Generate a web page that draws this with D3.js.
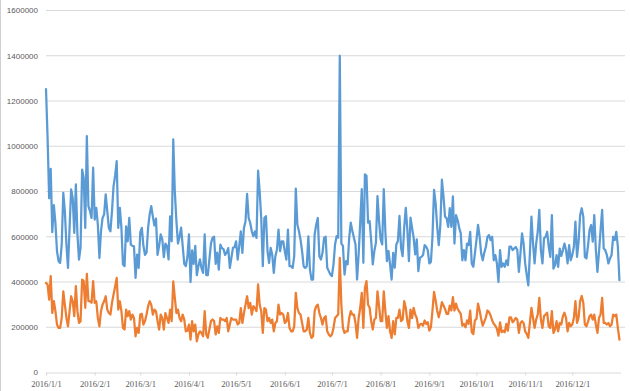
<!DOCTYPE html>
<html>
<head>
<meta charset="utf-8">
<script src="https://cdn.jsdelivr.net/npm/d3@7"></script>
<style>
  html, body { margin: 0; padding: 0; background: #ffffff; }
  svg { display: block; }
</style>
</head>
<body>
<svg id="chart" width="630" height="391"></svg>
<script>
// ---------- DATA ----------
const startDate = "2016-01-01";
const endDate = "2017-01-01";

const tickLabels = ["2016/1/1","2016/2/1","2016/3/1","2016/4/1","2016/5/1","2016/6/1",
                    "2016/7/1","2016/8/1","2016/9/1","2016/10/1","2016/11/1","2016/12/1"];

const yTicks = [0,200000,400000,600000,800000,1000000,1200000,1400000,1600000];

// daily values, 2016-01-01 .. 2016-12-31
const seriesBlue = [
1252000,1040000,770000,900000,620000,740000,660000,536000,492000,484000,
565000,794000,713000,565000,462000,639000,809000,772000,617000,831000,
610000,499000,551000,897000,860000,639000,1045000,735000,713000,683000,
905000,676000,728000,654000,506000,624000,683000,698000,787000,713000,
639000,624000,713000,824000,870000,934000,639000,728000,639000,477000,
470000,646000,580000,683000,565000,560000,558000,418000,521000,462000,
620000,639000,560000,520000,530000,640000,700000,735000,690000,650000,
680000,520000,560000,610000,590000,510000,570000,560000,500000,690000,
580000,1030000,800000,670000,570000,600000,640000,560000,480000,470000,
510000,610000,400000,540000,480000,560000,430000,470000,500000,460000,
440000,610000,430000,430000,500000,570000,595000,600000,480000,530000,
455000,565000,550000,545000,520000,530000,550000,462000,507000,551000,
554000,580000,499000,558000,624000,529000,639000,669000,789000,683000,
661000,624000,602000,624000,595000,892000,801000,683000,470000,683000,
691000,536000,484000,551000,521000,440000,514000,543000,632000,536000,
580000,580000,536000,499000,632000,470000,470000,462000,514000,813000,
654000,624000,588000,536000,470000,462000,470000,602000,455000,411000,
411000,610000,654000,683000,514000,499000,529000,595000,600000,463000,
448000,433000,426000,478000,566000,603000,596000,1400000,570000,560000,
433000,492000,478000,596000,662000,625000,596000,566000,411000,522000,
662000,810000,485000,876000,869000,662000,669000,581000,478000,537000,
573000,780000,669000,588000,566000,810000,625000,492000,537000,478000,
411000,529000,463000,566000,581000,692000,551000,514000,640000,728000,
633000,492000,684000,640000,596000,522000,588000,448000,507000,511000,
519000,563000,556000,541000,482000,489000,600000,807000,748000,644000,
563000,650000,852000,778000,689000,682000,644000,726000,644000,778000,
570000,696000,674000,640000,615000,496000,541000,496000,570000,563000,
622000,482000,467000,526000,585000,652000,600000,526000,496000,530000,
556000,600000,607000,585000,600000,496000,519000,482000,400000,541000,
467000,482000,467000,496000,474000,556000,556000,541000,548000,555000,
541000,445000,526000,615000,570000,482000,430000,385000,526000,689000,
570000,482000,570000,622000,719000,541000,482000,593000,600000,622000,
556000,511000,696000,459000,474000,519000,467000,548000,515000,541000,
570000,541000,482000,563000,496000,519000,556000,667000,511000,578000,
696000,726000,689000,511000,504000,560000,630000,652000,578000,696000,
541000,445000,533000,630000,719000,548000,541000,519000,482000,504000,
519000,600000,585000,622000,556000,408000
];

const seriesOrange = [
396000,389000,322000,426000,263000,315000,271000,212000,197000,197000,
241000,359000,300000,241000,204000,271000,337000,315000,249000,382000,
271000,219000,227000,411000,404000,286000,436000,315000,315000,308000,
404000,308000,315000,241000,204000,271000,300000,315000,337000,278000,
263000,256000,308000,345000,380000,418000,278000,315000,271000,197000,
190000,278000,249000,271000,234000,256000,241000,160000,197000,175000,
256000,259000,212000,227000,256000,293000,315000,300000,256000,278000,
271000,227000,190000,256000,241000,190000,263000,241000,219000,278000,
227000,403000,330000,263000,278000,241000,227000,256000,234000,182000,
185000,212000,145000,227000,182000,212000,138000,168000,182000,175000,
160000,271000,168000,153000,190000,227000,234000,227000,168000,204000,
175000,241000,234000,234000,227000,241000,182000,212000,241000,234000,
234000,234000,212000,219000,285000,219000,263000,300000,337000,285000,
308000,256000,293000,285000,271000,389000,300000,271000,175000,285000,
278000,227000,241000,219000,234000,182000,219000,227000,300000,256000,
263000,256000,219000,227000,263000,197000,182000,182000,204000,352000,
285000,263000,256000,219000,182000,182000,190000,241000,175000,153000,
160000,271000,293000,300000,263000,241000,212000,241000,249000,182000,
168000,160000,168000,197000,241000,249000,256000,507000,300000,197000,
175000,182000,182000,241000,271000,256000,256000,219000,153000,241000,
286000,352000,197000,374000,404000,300000,286000,227000,190000,234000,
241000,359000,293000,227000,227000,359000,271000,197000,249000,182000,
153000,227000,168000,241000,241000,278000,227000,234000,315000,286000,
227000,197000,278000,241000,286000,256000,241000,197000,212000,215000,
207000,230000,215000,222000,185000,200000,274000,356000,318000,274000,
244000,274000,311000,296000,281000,259000,259000,296000,274000,333000,
274000,304000,281000,270000,259000,207000,215000,200000,230000,215000,
274000,178000,170000,230000,237000,304000,274000,237000,207000,225000,
244000,274000,267000,252000,230000,215000,207000,193000,163000,222000,
178000,185000,178000,215000,185000,244000,244000,222000,230000,241000,
234000,175000,219000,227000,219000,182000,170000,153000,219000,286000,
241000,197000,234000,256000,330000,234000,197000,249000,256000,264000,
204000,197000,271000,175000,190000,227000,182000,219000,212000,249000,
264000,241000,182000,219000,204000,212000,241000,316000,219000,241000,
316000,338000,308000,212000,204000,225000,249000,256000,234000,256000,
212000,175000,241000,256000,330000,219000,219000,212000,219000,204000,
212000,256000,249000,256000,197000,145000
];

// ---------- CHART ----------
const svg = d3.select("#chart");
const W = 630, H = 391;
const plot = { left: 46, right: 621, top: 10.5, bottom: 372.5 };

const parse = d3.utcParse("%Y-%m-%d");
const days = d3.utcDay.range(parse(startDate), parse(endDate));
const monthStarts = d3.utcMonth.range(parse(startDate), parse(endDate));

const x = d3.scaleUtc().domain([parse(startDate), parse(endDate)]).range([plot.left, plot.right]);
const y = d3.scaleLinear().domain([0, 1600000]).range([plot.bottom, plot.top]);

svg.append("rect").attr("width", W).attr("height", H).attr("fill", "#ffffff");
// left frame edge
svg.append("line").attr("x1", 0.5).attr("x2", 0.5).attr("y1", 0).attr("y2", H)
   .attr("stroke", "#d0d0d0").attr("stroke-width", 1);

// gridlines
svg.append("g").selectAll("line").data(yTicks.filter(v => v > 0)).join("line")
  .attr("x1", plot.left).attr("x2", 625)
  .attr("y1", d => y(d)).attr("y2", d => y(d))
  .attr("stroke", "#d9d9d9").attr("stroke-width", 1);

// y labels
svg.append("g").selectAll("text").data(yTicks).join("text")
  .attr("x", 38).attr("y", d => y(d)).attr("dy", "0.35em")
  .attr("text-anchor", "end")
  .attr("font-family", "'Liberation Sans', Arial, sans-serif")
  .attr("font-size", "8px").attr("fill", "#595959")
  .text(d => d3.format("d")(d));

// x axis
const xAxis = d3.axisBottom(x).tickValues(monthStarts).tickSize(3)
  .tickFormat((d, i) => tickLabels[i]);
const gx = svg.append("g").attr("transform", `translate(0,${plot.bottom})`).call(xAxis);
gx.select(".domain").attr("stroke", "#d9d9d9").attr("d", `M${plot.left},0.5H${plot.right}`);
gx.selectAll(".tick line").attr("stroke", "#d9d9d9");
gx.selectAll(".tick text")
  .attr("font-family", "'Liberation Serif', 'Times New Roman', serif")
  .attr("font-size", "8.6px").attr("fill", "#595959").attr("y", 8);

// lines
const line = d3.line().x((d, i) => x(days[i])).y(d => y(d));
svg.append("path").datum(seriesBlue)
  .attr("d", line).attr("fill", "none").attr("stroke", "#5b9bd5")
  .attr("stroke-width", 2.25).attr("stroke-linejoin", "round").attr("stroke-linecap", "round");
svg.append("path").datum(seriesOrange)
  .attr("d", line).attr("fill", "none").attr("stroke", "#ed7d31")
  .attr("stroke-width", 2.25).attr("stroke-linejoin", "round").attr("stroke-linecap", "round");
</script>
</body>
</html>
